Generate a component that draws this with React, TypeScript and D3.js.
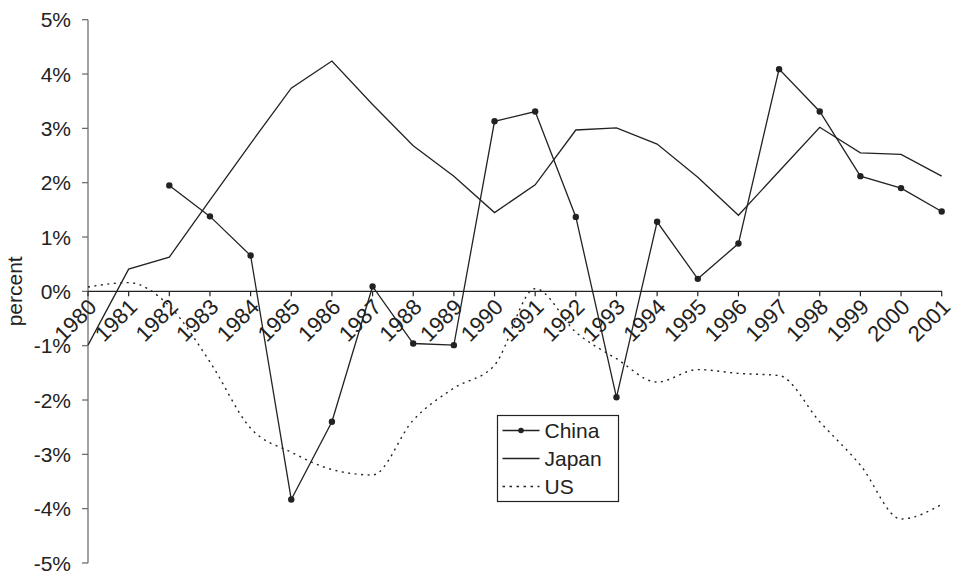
import React from "react";
import * as d3 from "d3";

const years: number[] = d3.range(1980, 2002);
const chinaYears: number[] = d3.range(1982, 2002);
const chinaValues: number[] = [1.95, 1.38, 0.66, -3.83, -2.40, 0.09, -0.96, -0.99, 3.13, 3.31, 1.37, -1.95, 1.28, 0.23, 0.88, 4.09, 3.31, 2.12, 1.90, 1.47];
const japanValues: number[] = [-0.99, 0.41, 0.63, 1.68, 2.72, 3.74, 4.24, 3.44, 2.68, 2.12, 1.45, 1.96, 2.97, 3.01, 2.71, 2.10, 1.40, 2.21, 3.02, 2.55, 2.52, 2.12];
const usValues: number[] = [0.08, 0.16, -0.27, -1.30, -2.52, -2.96, -3.28, -3.38, -2.37, -1.78, -1.36, 0.05, -0.75, -1.24, -1.67, -1.44, -1.51, -1.55, -2.40, -3.20, -4.19, -3.92];
const yTicks: number[] = [-5, -4, -3, -2, -1, 0, 1, 2, 3, 4, 5];
const legendItems: string[] = ["China", "Japan", "US"];

const W = 960;
const H = 581;
const FONT = "'Liberation Sans', Arial, Helvetica, sans-serif";
const INK = "#222";

export default function App() {
  const x = d3.scaleLinear().domain([1980, 2001]).range([88, 941.7]);
  const y = d3.scaleLinear().domain([-5, 5]).range([563, 19.7]);

  const line = d3
    .line<[number, number]>()
    .x((d) => x(d[0]))
    .y((d) => y(d[1]));
  const smooth = d3
    .line<[number, number]>()
    .x((d) => x(d[0]))
    .y((d) => y(d[1]))
    .curve(d3.curveMonotoneX);

  const china: [number, number][] = chinaYears.map((yr, i) => [yr, chinaValues[i]]);
  const japan: [number, number][] = years.map((yr, i) => [yr, japanValues[i]]);
  const us: [number, number][] = years.map((yr, i) => [yr, usValues[i]]);

  const y0 = y(0);
  const lx = 497.5;
  const ly = 415.5;

  return (
    <svg
      width={W}
      height={H}
      style={{ position: "absolute", left: 0, top: 0, background: "#fff" }}
      fontFamily={FONT}
    >
      <rect x={0} y={0} width={W} height={H} fill="#fff" />
      {/* y axis */}
      <line x1={88} x2={88} y1={y(5)} y2={y(-5)} stroke="#666" strokeWidth={1.2} />
      {yTicks.map((t) => (
        <g key={t}>
          <line x1={82} x2={88} y1={y(t)} y2={y(t)} stroke="#666" strokeWidth={1.2} />
          <text x={71} y={y(t)} dy="0.36em" textAnchor="end" fontSize={21} fill={INK}>
            {`${t}%`}
          </text>
        </g>
      ))}
      <text
        transform={`translate(22,${(y(5) + y(-5)) / 2}) rotate(-90)`}
        textAnchor="middle"
        fontSize={21}
        fill={INK}
      >
        percent
      </text>
      {/* x axis at zero */}
      <line x1={88} x2={942} y1={y0} y2={y0} stroke={INK} strokeWidth={1.3} />
      {years.map((yr) => (
        <g key={yr}>
          <line x1={x(yr)} x2={x(yr)} y1={y0} y2={y0 + 5} stroke={INK} strokeWidth={1.2} />
          <text
            transform={`translate(${x(yr) + 10},${y0 + 17}) rotate(-45)`}
            textAnchor="end"
            fontSize={22}
            fill={INK}
          >
            {yr}
          </text>
        </g>
      ))}
      {/* series */}
      <path d={smooth(us) || ""} fill="none" stroke={INK} strokeWidth={1.4} strokeDasharray="2,4.5" />
      <path d={line(japan) || ""} fill="none" stroke={INK} strokeWidth={1.3} />
      <path d={line(china) || ""} fill="none" stroke={INK} strokeWidth={1.3} />
      {china.map((d) => (
        <circle key={d[0]} cx={x(d[0])} cy={y(d[1])} r={3.2} fill={INK} />
      ))}
      {/* legend */}
      <rect x={lx} y={ly} width={121} height={86} fill="#fff" stroke={INK} strokeWidth={1.2} />
      {legendItems.map((name, i) => {
        const cy = ly + 15 + i * 28;
        return (
          <g key={name}>
            <line
              x1={lx + 5}
              x2={lx + 42}
              y1={cy}
              y2={cy}
              stroke={INK}
              strokeWidth={1.3}
              strokeDasharray={name === "US" ? "2.5,4.5" : undefined}
            />
            {name === "China" && <circle cx={lx + 23.5} cy={cy} r={2.8} fill={INK} />}
            <text x={lx + 47} y={cy} dy="0.36em" fontSize={21} fill={INK}>
              {name}
            </text>
          </g>
        );
      })}
    </svg>
  );
}
